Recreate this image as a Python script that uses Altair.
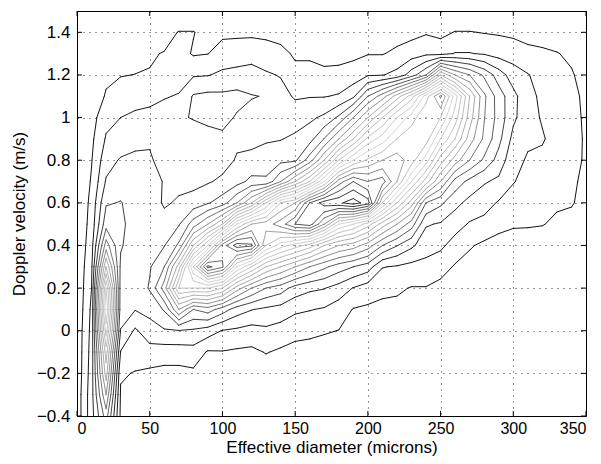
import altair as alt
import numpy as np
import pandas as pd

# ---- data -----------------------------------------------------------------
diameters = [0, 10, 20, 30, 40, 50, 60, 70, 80, 90, 100, 110, 120, 130, 140, 150, 160, 170,
             180, 190, 200, 210, 220, 230, 240, 250, 260, 270, 280, 290, 300, 310, 320, 330, 340, 350]
velocities = [-0.4, -0.3, -0.2, -0.1, 0.0, 0.1, 0.2, 0.3, 0.4, 0.5,
              0.6, 0.7, 0.8, 0.9, 1.0, 1.1, 1.2, 1.3, 1.4, 1.5]

# estimated field value, one list per diameter, velocities from -0.4 up to 1.5
density_columns = [
    [0.4, 0.4, 0.3, 0.3, 0.3, 0.2, 0.2, 0.2, 0.1, 0.1, 0, 0, 0, 0, 0, 0, 0, 0, 0, 0],
    [2.6, 2.6, 2.5, 2.4, 2.3, 2.2, 2.0, 1.8, 1.6, 1.4, 1.3, 1.1, 0.95, 0.8, 0.6, 0.3, 0, 0, 0, 0],
    [5.5, 7.0, 8.5, 9.5, 11.5, 13.0, 12.0, 9.0, 6.5, 4.6, 3.9, 3.1, 2.6, 2.1, 1.7, 1.1, 0.8, 0.3, 0, 0],
    [0.8, 0.9, 1.1, 1.95, 2.95, 3.5, 3.6, 3.8, 4.1, 4.2, 4.05, 3.5, 3.1, 2.4, 2.0, 1.5, 0.95, 0.6, 0.2, 0],
    [0.3, 0.5, 0.95, 1.4, 1.85, 3.05, 3.3, 3.4, 3.5, 3.6, 3.6, 3.4, 3.15, 2.8, 2.1, 1.8, 1.02, 0.6, 0.2, 0],
    [0.1, 0.3, 0.8, 1.6, 2.6, 3.3, 4.1, 3.9, 3.6, 3.5, 3.4, 3.3, 3.1, 2.9, 2.2, 1.8, 1.05, 0.9, 0.5, 0],
    [0.05, 0.2, 0.7, 1.5, 2.9, 4.1, 6.5, 5.0, 3.95, 3.3, 2.9, 2.95, 2.7, 2.4, 2.3, 1.95, 1.5, 1.05, 0.6, 0],
    [0, 0.1, 0.7, 1.5, 2.95, 7.0, 11.0, 8.5, 5.2, 3.9, 3.1, 2.8, 2.6, 2.5, 2.9, 2.05, 1.7, 1.4, 1.05, 0],
    [0, 0.1, 0.8, 1.6, 2.85, 5.0, 11.0, 14.0, 9.0, 5.5, 3.4, 2.7, 2.5, 2.6, 3.05, 3.1, 1.9, 0.9, 1.05, 0],
    [0, 0.1, 0.5, 0.9, 2.5, 5.5, 11.0, 18.3, 12.0, 7.0, 3.9, 2.9, 2.6, 2.7, 3.2, 3.25, 1.95, 0.98, 0.6, 0],
    [0, 0.05, 0.4, 0.95, 1.95, 4.5, 10.0, 17.2, 16.5, 9.0, 4.5, 3.2, 2.6, 2.8, 3.3, 3.2, 2.2, 1.4, 0.8, 0],
    [0, 0.05, 0.4, 0.85, 1.8, 3.5, 7.5, 13.0, 18.5, 13.0, 6.0, 3.6, 3.1, 2.8, 2.9, 3.3, 2.3, 1.5, 0.8, 0],
    [0, 0.05, 0.35, 0.8, 1.6, 3.05, 6.0, 11.0, 18.2, 15.0, 8.0, 4.3, 3.2, 2.8, 2.7, 3.05, 2.4, 1.6, 0.8, 0],
    [0, 0, 0.5, 1.05, 1.8, 2.8, 5.0, 9.0, 14.0, 15.5, 11.0, 4.2, 3.4, 2.9, 2.7, 2.95, 2.1, 1.55, 0.7, 0],
    [0, 0, 0.4, 0.85, 1.6, 2.6, 4.5, 8.0, 12.5, 16.5, 14.0, 6.0, 3.7, 2.95, 2.6, 2.3, 1.95, 1.3, 0.6, 0],
    [0, 0, 0.3, 0.7, 1.3, 2.2, 3.6, 7.0, 11.5, 18.0, 15.0, 8.0, 3.8, 3.2, 2.5, 1.9, 1.3, 0.85, 0.3, 0],
    [0, 0, 0.25, 0.6, 1.25, 2.05, 3.2, 6.0, 10.5, 18.5, 18.0, 10.0, 5.5, 3.6, 2.8, 1.95, 1.4, 0.8, 0.3, 0],
    [0, 0, 0.2, 0.55, 1.1, 1.9, 3.05, 5.2, 9.0, 16.0, 19.5, 13.0, 8.0, 5.05, 3.2, 1.95, 1.2, 0.7, 0.3, 0],
    [0, 0, 0.1, 0.4, 0.98, 1.5, 2.6, 4.5, 8.0, 13.0, 19.8, 16.5, 11.0, 7.0, 4.2, 2.1, 1.25, 0.7, 0.3, 0],
    [0, 0, 0.1, 0.3, 0.7, 0.95, 1.95, 4.0, 7.5, 12.0, 20.5, 18.0, 13.0, 9.0, 6.0, 2.8, 1.4, 0.8, 0.3, 0],
    [0, 0, 0.1, 0.3, 0.6, 0.85, 1.5, 3.5, 6.5, 10.5, 19.5, 17.0, 14.2, 11.3, 8.0, 5.0, 1.9, 0.95, 0.4, 0],
    [0, 0, 0, 0.2, 0.5, 0.8, 1.2, 2.05, 5.0, 8.5, 14.0, 17.5, 15.0, 12.5, 10.0, 6.5, 1.95, 0.95, 0.5, 0],
    [0, 0, 0, 0.15, 0.4, 0.75, 1.15, 1.9, 4.05, 7.0, 11.0, 15.0, 15.5, 14.0, 12.0, 8.5, 2.3, 1.2, 0.6, 0],
    [0, 0, 0, 0.1, 0.3, 0.6, 0.95, 1.7, 3.2, 5.5, 8.5, 12.0, 14.5, 14.8, 13.5, 10.5, 3.5, 1.5, 0.7, 0],
    [0, 0, 0, 0.1, 0.25, 0.5, 0.95, 1.7, 2.4, 3.1, 5.0, 9.5, 12.5, 14.5, 15.0, 13.5, 5.0, 1.8, 0.9, 0],
    [0, 0, 0, 0, 0.2, 0.4, 0.7, 1.4, 2.2, 2.9, 4.2, 7.0, 9.5, 12.0, 14.0, 16.2, 9.0, 1.7, 0.7, 0],
    [0, 0, 0, 0, 0.1, 0.3, 0.55, 0.9, 1.6, 2.4, 3.3, 4.6, 7.5, 10.0, 11.5, 12.5, 7.0, 2.05, 1.05, 0],
    [0, 0, 0, 0, 0, 0.2, 0.4, 0.65, 1.1, 1.9, 2.7, 3.7, 6.0, 7.5, 8.5, 9.0, 6.0, 2.05, 1.05, 0],
    [0, 0, 0, 0, 0, 0.1, 0.3, 0.5, 0.8, 1.7, 2.4, 3.1, 4.8, 5.8, 6.05, 6.2, 4.8, 1.9, 0.95, 0],
    [0, 0, 0, 0, 0, 0, 0.2, 0.4, 0.75, 1.2, 1.9, 2.8, 3.6, 4.3, 4.6, 4.5, 3.5, 1.6, 0.9, 0],
    [0, 0, 0, 0, 0, 0, 0.1, 0.3, 0.6, 1.1, 1.6, 2.05, 2.3, 2.7, 3.2, 3.3, 2.5, 1.5, 0.8, 0],
    [0, 0, 0, 0, 0, 0, 0.1, 0.25, 0.5, 1.1, 1.4, 1.7, 1.9, 2.15, 2.4, 2.3, 2.05, 1.3, 0.6, 0],
    [0, 0, 0, 0, 0, 0, 0.05, 0.2, 0.4, 1.05, 1.3, 1.5, 1.75, 2.1, 1.9, 1.8, 1.65, 1.2, 0.5, 0],
    [0, 0, 0, 0, 0, 0, 0, 0.1, 0.3, 0.8, 1.15, 1.35, 1.5, 1.6, 1.65, 1.6, 1.5, 1.05, 0.4, 0],
    [0, 0, 0, 0, 0, 0, 0, 0, 0.2, 0.6, 1.1, 1.15, 1.25, 1.3, 1.3, 1.25, 1.1, 0.8, 0.2, 0],
    [0, 0, 0, 0, 0, 0, 0, 0, 0.1, 0.3, 0.6, 0.8, 0.9, 0.9, 0.85, 0.8, 0.6, 0.3, 0.1, 0],
]

contour_levels = [1, 2, 3, 4, 5, 6, 7, 8, 9, 10, 11, 12, 13, 14, 15, 16, 17, 18, 19, 20]

x_ticks = [0, 50, 100, 150, 200, 250, 300, 350]
y_ticks = [-0.4, -0.2, 0, 0.2, 0.4, 0.6, 0.8, 1, 1.2, 1.4]

# ---- contour segments (marching squares on the grid above) ----------------
Z = np.array(density_columns, dtype=float).T  # rows: velocity, cols: diameter
xs = np.array(diameters, dtype=float)
ys = np.array(velocities, dtype=float)


def edge_point(lev, pa, pb, za, zb):
    t = 0.5 if zb == za else (lev - za) / (zb - za)
    return (pa[0] + t * (pb[0] - pa[0]), pa[1] + t * (pb[1] - pa[1]))


rows = []
ny, nx = Z.shape
for lev in contour_levels:
    for j in range(ny - 1):
        for i in range(nx - 1):
            p00 = (xs[i], ys[j]); p10 = (xs[i + 1], ys[j])
            p11 = (xs[i + 1], ys[j + 1]); p01 = (xs[i], ys[j + 1])
            z00 = Z[j, i]; z10 = Z[j, i + 1]; z11 = Z[j + 1, i + 1]; z01 = Z[j + 1, i]
            code = (z00 >= lev) * 1 + (z10 >= lev) * 2 + (z11 >= lev) * 4 + (z01 >= lev) * 8
            if code in (0, 15):
                continue
            E = {
                0: lambda: edge_point(lev, p00, p10, z00, z10),
                1: lambda: edge_point(lev, p10, p11, z10, z11),
                2: lambda: edge_point(lev, p11, p01, z11, z01),
                3: lambda: edge_point(lev, p01, p00, z01, z00),
            }
            centre = (z00 + z10 + z11 + z01) / 4.0
            table = {
                1: [(3, 0)], 2: [(0, 1)], 3: [(3, 1)], 4: [(1, 2)],
                6: [(0, 2)], 7: [(3, 2)], 8: [(2, 3)], 9: [(0, 2)],
                11: [(1, 2)], 12: [(1, 3)], 13: [(0, 1)], 14: [(0, 3)],
            }
            if code == 5:
                pairs = [(0, 1), (2, 3)] if centre >= lev else [(3, 0), (1, 2)]
            elif code == 10:
                pairs = [(3, 0), (1, 2)] if centre >= lev else [(0, 1), (2, 3)]
            else:
                pairs = table[code]
            for a, b in pairs:
                pa = E[a](); pb = E[b]()
                rows.append({"x": pa[0], "y": pa[1], "x2": pb[0], "y2": pb[1], "level": lev})

segs = pd.DataFrame(rows)


# grey tone of each level (jet colour map printed in grey)
def jet_grey(t):
    r = min(max(1.5 - abs(4 * t - 3), 0), 1)
    g = min(max(1.5 - abs(4 * t - 2), 0), 1)
    b = min(max(1.5 - abs(4 * t - 1), 0), 1)
    lum = (0.299 * r + 0.587 * g + 0.114 * b) * 0.95
    v = int(round(lum * 255))
    return "#%02x%02x%02x" % (v, v, v)


greys = [jet_grey(k / 21.0) for k in contour_levels]

W, H = 509, 405
FONT = "Liberation Sans"

xscale = alt.Scale(domain=[0, 350], nice=False, zero=False)
yscale = alt.Scale(domain=[-0.4, 1.5], nice=False, zero=False)

xaxis = alt.Axis(values=x_ticks, title="Effective diameter (microns)", grid=True,
                 gridColor="#000000", gridDash=[1, 5], gridOpacity=0.8, gridWidth=1,
                 domain=False, ticks=False, labelPadding=4, titlePadding=3,
                 labelFont=FONT, labelFontSize=16, titleFont=FONT, titleFontSize=17,
                 titleFontWeight="normal", labelColor="#000000", titleColor="#000000")
yaxis = alt.Axis(values=y_ticks, title="Doppler velocity (m/s)", grid=True, format=".1~f",
                 gridColor="#000000", gridDash=[1, 5], gridOpacity=0.8, gridWidth=1,
                 domain=False, ticks=False, labelPadding=7, titlePadding=8,
                 labelFont=FONT, labelFontSize=17, titleFont=FONT, titleFontSize=17,
                 titleFontWeight="normal", labelColor="#000000", titleColor="#000000")

lines = alt.Chart(segs).mark_rule(strokeWidth=1, strokeCap="round").encode(
    x=alt.X("x:Q", scale=xscale, axis=xaxis),
    y=alt.Y("y:Q", scale=yscale, axis=yaxis),
    x2="x2:Q",
    y2="y2:Q",
    color=alt.Color("level:O", scale=alt.Scale(domain=contour_levels, range=greys), legend=None),
)

xt = pd.DataFrame({"d": x_ticks})
yt = pd.DataFrame({"v": y_ticks})
tick_len = 5
xticks_bottom = alt.Chart(xt).mark_rule(color="black").encode(
    x=alt.X("d:Q", scale=xscale), y=alt.value(H), y2=alt.value(H - tick_len))
xticks_top = alt.Chart(xt).mark_rule(color="black").encode(
    x=alt.X("d:Q", scale=xscale), y=alt.value(0), y2=alt.value(tick_len))
yticks_left = alt.Chart(yt).mark_rule(color="black").encode(
    y=alt.Y("v:Q", scale=yscale), x=alt.value(0), x2=alt.value(tick_len))
yticks_right = alt.Chart(yt).mark_rule(color="black").encode(
    y=alt.Y("v:Q", scale=yscale), x=alt.value(W), x2=alt.value(W - tick_len))

chart = alt.layer(lines, xticks_bottom, xticks_top, yticks_left, yticks_right).properties(
    width=W, height=H,
    autosize=alt.AutoSizeParams(type="none"),
    padding={"left": 69, "top": 3, "right": 7, "bottom": 40},
    background="white",
).configure_view(stroke="black", strokeWidth=1)

chart.save("out.html", embed_options={"renderer": "svg", "actions": False})
